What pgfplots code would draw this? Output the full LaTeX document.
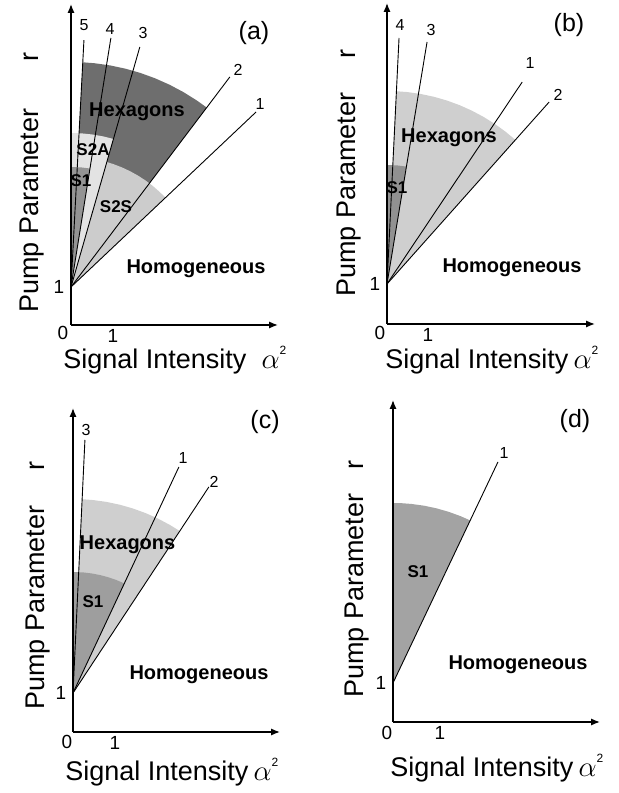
\documentclass[border=0pt]{standalone}
\usepackage{fontspec}
\setmainfont{Liberation Sans}
\setsansfont{Liberation Sans}
\usepackage{pgfplots}
\pgfplotsset{compat=1.18}
\usetikzlibrary{arrows.meta}

\definecolor{hexa}{gray}{0.43}
\definecolor{s1a}{gray}{0.58}
\definecolor{s2s}{gray}{0.80}
\definecolor{s2a}{gray}{0.89}
\definecolor{hexl}{gray}{0.81}
\definecolor{s1b}{gray}{0.57}
\definecolor{s1c}{gray}{0.62}
\definecolor{s1d}{gray}{0.64}

\newcommand{\labf}{\fontsize{13.5}{15}\selectfont}
\newcommand{\regf}{\fontsize{10}{12}\selectfont\bfseries}
\newcommand{\sregf}{\fontsize{8.5}{10}\selectfont\bfseries}
\newcommand{\numf}{\fontsize{8}{9}\selectfont}
\newcommand{\panf}{\fontsize{12.5}{14}\selectfont}
\newcommand{\tickf}{\fontsize{9.5}{11}\selectfont}
\newcommand{\alphasq}{{\fontsize{15}{15}\selectfont$\alpha$}\raisebox{7pt}{\fontsize{6}{7}\selectfont 2}}

\tikzset{
 xlab/.style={font=\labf, anchor=base west, inner sep=0pt},
 ylab/.style={font=\labf, anchor=base west, inner sep=0pt, rotate=90},
 zero/.style={font=\tickf, inner sep=1pt},
}
\pgfplotsset{
 panel/.style={x=0.5pt,y=0.5pt,anchor=south west,axis lines=left,clip=false,axis on top,
   xmin=0, axis line style={line width=0.7pt,-{Latex[length=4.5pt,width=3.6pt]}},
   major tick length=0pt, ytick={0}, yticklabels={\textrm{1}},
   tick label style={font=\tickf, inner sep=1pt},
   xticklabel style={yshift=-1.2pt},
   yticklabel style={xshift=-2.2pt}},
 bound/.style={line width=0.45pt, black, data cs=polar},
 reg/.style={draw=none, data cs=polar},
}

\begin{document}
\begin{tikzpicture}
\useasboundingbox (0,0) rectangle (309pt,396.5pt);

% ---------------- (a)
\begin{axis}[panel, at={(35.5pt,234pt)}, xmax=207, ymin=-38, ymax=283,
  xtick={42}, xticklabels={\textrm{1}}]
\addplot[reg, fill=hexa] coordinates {(0,0) (52.9,225) (56,225) (60,225) (64,225) (68,225) (72,225) (76,225) (80,225) (84,225) (87,225)};
\addplot[reg, fill=s2s] coordinates {(0,0) (43.4,130) (47,130) (51,130) (55,130) (59,130) (63,130) (67,130) (71,130) (74,130)};
\addplot[reg, fill=s2a] coordinates {(0,0) (74,154) (78,154) (82,154) (86,154) (90,154)};
\addplot[reg, fill=s1a] coordinates {(0,0) (80.9,120) (85,120) (90,120)};
\addplot[bound] coordinates {(0,0) (43.4,254.7)};
\addplot[bound] coordinates {(0,0) (52.9,263.4)};
\addplot[bound] coordinates {(0,0) (74.0,249.7)};
\addplot[bound] coordinates {(0,0) (80.9,252.2)};
\addplot[bound] coordinates {(0,0) (87.0,247.3)};
\node[font=\numf] at (axis cs:189,183) {1};
\node[font=\numf] at (axis cs:167,217) {2};
\node[font=\numf] at (axis cs:72,254) {3};
\node[font=\numf] at (axis cs:39,258) {4};
\node[font=\numf] at (axis cs:13,262) {5};
\node[font=\regf] at (axis cs:66,175) {Hexagons};
\node[font=\sregf] at (axis cs:22,137) {S2A};
\node[font=\sregf] at (axis cs:10,106) {S1};
\node[font=\sregf] at (axis cs:45,80) {S2S};
\node[font=\regf] at (axis cs:125,18) {Homogeneous};
\node[font=\panf] at (axis cs:183,254) {(a)};
\node[zero] at (axis cs:-8,-46) {0};
\node[xlab] at (axis cs:-8,-82) {Signal Intensity\hspace{7.5pt}\alphasq};
\node[ylab] at (axis cs:-32,-26) {Pump Parameter\hspace{23.7pt}r};
\end{axis}

% ---------------- (b)
\begin{axis}[panel, at={(193.5pt,234.5pt)}, xmax=208, ymin=-40, ymax=281,
  xtick={41}, xticklabels={\textrm{1}}]
\addplot[reg, fill=hexl] coordinates {(0,0) (48.3,193) (52,193) (56,193) (60,193) (64,193) (68,193) (72,193) (76,193) (80,193) (84,193) (87.2,193)};
\addplot[reg, fill=s1b] coordinates {(0,0) (80.6,119) (85,119) (90,119)};
\addplot[bound] coordinates {(0,0) (87.2,246.3)};
\addplot[bound] coordinates {(0,0) (80.6,245.3)};
\addplot[bound] coordinates {(0,0) (56.2,243)};
\addplot[bound] coordinates {(0,0) (48.3,243.7)};
\node[font=\numf] at (axis cs:13,259) {4};
\node[font=\numf] at (axis cs:44,254) {3};
\node[font=\numf] at (axis cs:143,221) {1};
\node[font=\numf] at (axis cs:171,189) {2};
\node[font=\regf] at (axis cs:62,146) {Hexagons};
\node[font=\sregf] at (axis cs:10,96) {S1};
\node[font=\regf] at (axis cs:125,16) {Homogeneous};
\node[font=\panf] at (axis cs:182,259) {(b)};
\node[zero] at (axis cs:-7,-49) {0};
\node[xlab] at (axis cs:-2,-85) {Signal Intensity\hspace{2.5pt}\alphasq};
\node[ylab] at (axis cs:-32,-13) {Pump Parameter\hspace{17pt}r};
\end{axis}

% ---------------- (c)
\begin{axis}[panel, at={(36.5pt,30.5pt)}, xmax=207, ymin=-39, ymax=285,
  xtick={42}, xticklabels={\textrm{1}}]
\addplot[reg, fill=hexl] coordinates {(0,0) (56.6,194) (60,194) (64,194) (68,194) (72,194) (76,194) (80,194) (84,194) (87.3,194)};
\addplot[reg, fill=s1c] coordinates {(0,0) (64.9,121) (69,121) (73,121) (77,121) (81,121) (85,121) (90,121)};
\addplot[bound] coordinates {(0,0) (87.3,253.3)};
\addplot[bound] coordinates {(0,0) (64.9,249.6)};
\addplot[bound] coordinates {(0,0) (56.6,246.8)};
\node[font=\numf] at (axis cs:13,263) {3};
\node[font=\numf] at (axis cs:110,235) {1};
\node[font=\numf] at (axis cs:141,211) {2};
\node[font=\regf] at (axis cs:54.5,148) {Hexagons};
\node[font=\sregf] at (axis cs:20,91) {S1};
\node[font=\regf] at (axis cs:126,18) {Homogeneous};
\node[font=\panf] at (axis cs:192,271) {(c)};
\node[zero] at (axis cs:-6,-49) {0};
\node[xlab] at (axis cs:-8,-88) {Signal Intensity\hspace{2.5pt}\alphasq};
\node[ylab] at (axis cs:-28,-17) {Pump Parameter\hspace{17.5pt}r};
\end{axis}

% ---------------- (d)
\begin{axis}[panel, at={(196.5pt,35.5pt)}, xmax=207, ymin=-39, ymax=283,
  xtick={47}, xticklabels={\textrm{1}}]
\addplot[reg, fill=s1d] coordinates {(0,0) (64.6,180) (68,180) (72,180) (76,180) (80,180) (84,180) (87,180) (90,180)};
\addplot[bound] coordinates {(0,0) (64.6,244.7)};
\node[font=\numf] at (axis cs:111,230) {1};
\node[font=\sregf] at (axis cs:25,111) {S1};
\node[font=\regf] at (axis cs:125,18) {Homogeneous};
\node[font=\panf] at (axis cs:182,262) {(d)};
\node[zero] at (axis cs:-6,-50) {0};
\node[xlab] at (axis cs:-3,-93) {Signal Intensity\hspace{2.5pt}\alphasq};
\node[ylab] at (axis cs:-30,-15) {Pump Parameter\hspace{12pt}r};
\end{axis}
\end{tikzpicture}
\end{document}
